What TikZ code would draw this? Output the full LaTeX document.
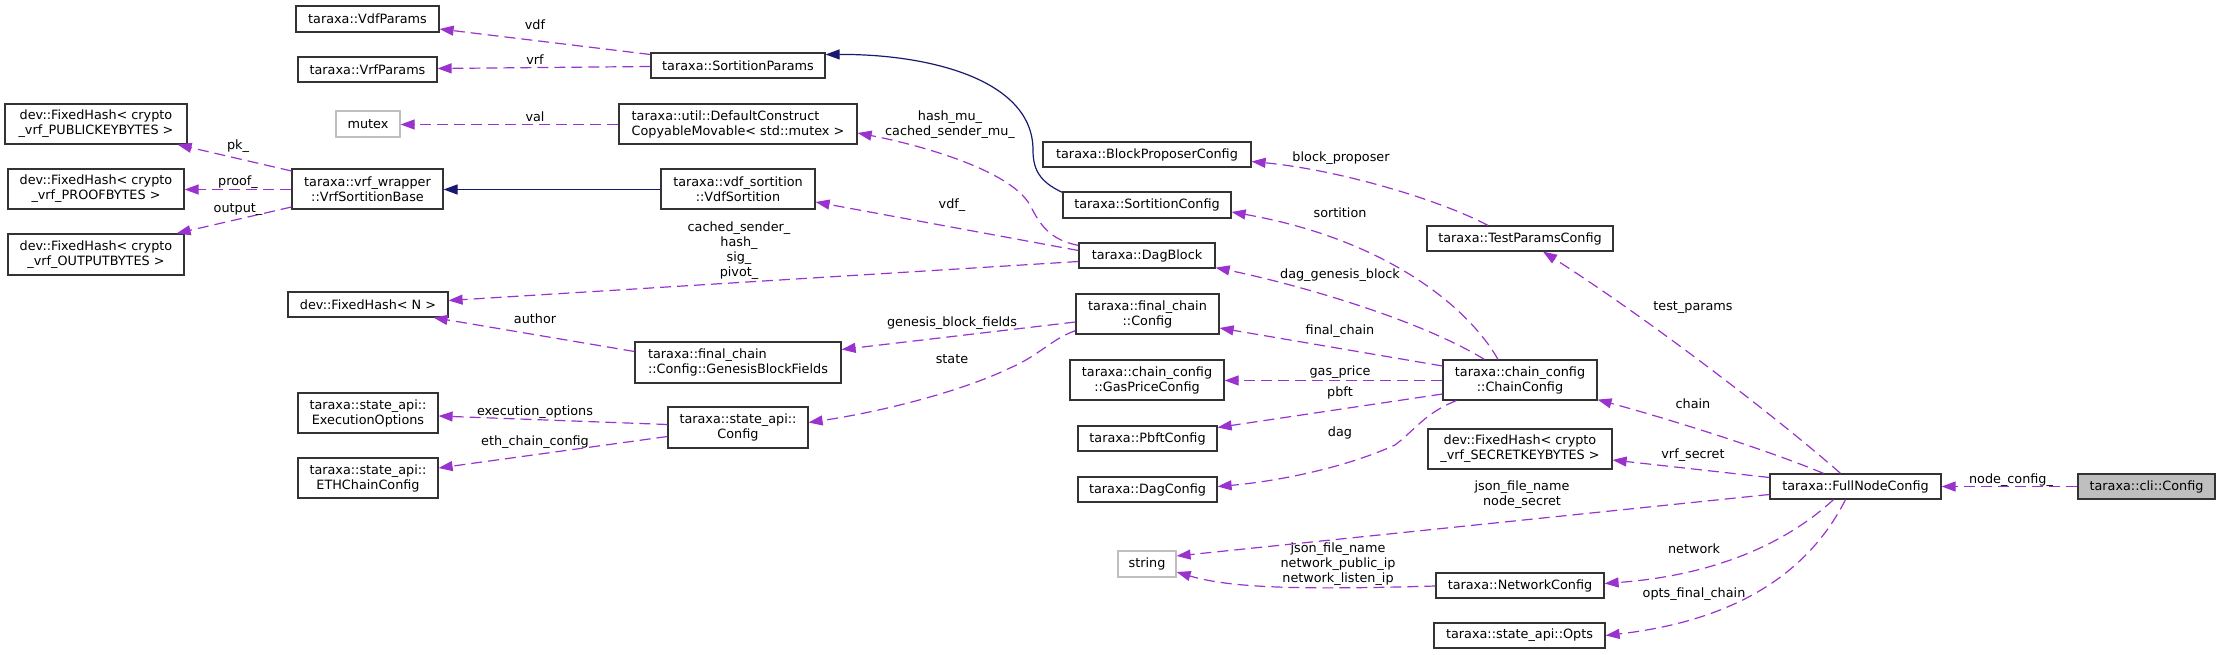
\documentclass[tikz,border=0pt]{standalone}
\usepackage{fontspec}
\setmainfont{DejaVu Sans}
\usetikzlibrary{arrows.meta,calc}
\definecolor{memc}{HTML}{9A32CD}
\definecolor{inhc}{HTML}{191970}
\definecolor{gbord}{HTML}{BFBFBF}
\newcommand\dxfont{\fontsize{12.8}{15}\selectfont}
\tikzset{
  cls/.style={draw=black!80, line width=1.2pt, fill=white, inner sep=0pt, align=center, font=\dxfont},
  gcls/.style={cls, draw=gbord},
  sz/.style 2 args={minimum width=#1pt, minimum height=#2pt},
  lbl/.style={inner sep=0pt, align=center, font=\dxfont},
  memedge/.style={draw=memc, line width=1.2pt, dash pattern=on 11pt off 6pt, -{Triangle[length=14pt,width=10pt]}},
  inhedge/.style={draw=inhc, line width=1.2pt, -{Triangle[length=14pt,width=10pt]}}
}
\begin{document}
\begin{tikzpicture}[x=1pt,y=-1pt]
\useasboundingbox (0,0) rectangle (2220,655);
% nodes
\node[cls,sz={143}{26}] (vdfp) at (367.5,19) {taraxa::VdfParams};
\node[cls,sz={139}{25}] (vrfp) at (367.5,69.5) {taraxa::VrfParams};
\node[cls,sz={174}{25}] (sortp) at (738,65.5) {taraxa::SortitionParams};
\node[cls,sz={182}{40}] (pubk) at (96,124) {dev::FixedHash< crypto\\\_vrf\_PUBLICKEYBYTES >};
\node[gcls,sz={64}{26}] (mutex) at (368,124) {mutex};
\node[cls,sz={238}{40},align=left] (defc) at (738,124) {taraxa::util::DefaultConstruct\\CopyableMovable< std::mutex >};
\node[cls,sz={208}{25}] (bpc) at (1147,154.5) {taraxa::BlockProposerConfig};
\node[cls,sz={176}{40}] (proof) at (96,189) {dev::FixedHash< crypto\\\_vrf\_PROOFBYTES >};
\node[cls,sz={151}{40}] (vrfsb) at (367.5,189) {taraxa::vrf\_wrapper\\::VrfSortitionBase};
\node[cls,sz={154}{40}] (vdfs) at (738,189) {taraxa::vdf\_sortition\\::VdfSortition};
\node[cls,sz={168}{26}] (sortc) at (1147,205) {taraxa::SortitionConfig};
\node[cls,sz={186}{25}] (tpc) at (1520,238.5) {taraxa::TestParamsConfig};
\node[cls,sz={176}{41}] (output) at (96,254.5) {dev::FixedHash< crypto\\\_vrf\_OUTPUTBYTES >};
\node[cls,sz={136}{25}] (dagb) at (1147,255.5) {taraxa::DagBlock};
\node[cls,sz={160}{25}] (fhn) at (368,304.5) {dev::FixedHash< N >};
\node[cls,sz={143}{40}] (fcc) at (1147.5,314) {taraxa::final\_chain\\::Config};
\node[cls,sz={206}{41},align=left] (gbf) at (738,362.5) {taraxa::final\_chain\\::Config::GenesisBlockFields};
\node[cls,sz={154}{40}] (chain) at (1520,380) {taraxa::chain\_config\\::ChainConfig};
\node[cls,sz={154}{40}] (gasp) at (1147,380) {taraxa::chain\_config\\::GasPriceConfig};
\node[cls,sz={140}{40}] (execo) at (368,413) {taraxa::state\_api::\\ExecutionOptions};
\node[cls,sz={140}{41}] (sac) at (738,427.5) {taraxa::state\_api::\\Config};
\node[cls,sz={139}{25}] (pbft) at (1147.5,438.5) {taraxa::PbftConfig};
\node[cls,sz={140}{40}] (eth) at (368,478) {taraxa::state\_api::\\ETHChainConfig};
\node[cls,sz={139}{25}] (dagc) at (1147.5,489.5) {taraxa::DagConfig};
\node[cls,sz={184}{40}] (secret) at (1520,449) {dev::FixedHash< crypto\\\_vrf\_SECRETKEYBYTES >};
\node[cls,sz={171}{25}] (fnc) at (1855.5,486.5) {taraxa::FullNodeConfig};
\node[cls,sz={137}{25},fill=gbord] (cli) at (2146.5,486.5) {taraxa::cli::Config};
\node[gcls,sz={58}{26}] (string) at (1147,564) {string};
\node[cls,sz={168}{25}] (netc) at (1520,585.5) {taraxa::NetworkConfig};
\node[cls,sz={171}{25}] (opts) at (1519.5,635.5) {taraxa::state\_api::Opts};
% edges
\draw[memedge] ($(sortp.west)+(0,-11)$) -- ($(vdfp.east)+(0,10)$);
\draw[memedge] ($(sortp.west)+(0,1)$) -- ($(vrfp.east)+(0,-1)$);
\draw[memedge] ($(defc.west)+(0,0.5)$) -- ($(mutex.east)+(0,0.5)$);
\draw[memedge] ($(vrfsb.west)+(0,-18)$) -- ($(pubk.south east)+(-10,0)$);
\draw[memedge] ($(vrfsb.west)+(0,0.5)$) -- ($(proof.east)+(0,0.5)$);
\draw[memedge] ($(vrfsb.west)+(0,18)$) -- ($(output.north east)+(-8,0)$);
\draw[inhedge] ($(vdfs.west)+(0,0.5)$) -- ($(vrfsb.east)+(0,0.5)$);
\draw[inhedge] ($(sortc.north west)+(0,1)$) .. controls (1040,182) and (1033,170) .. (1033,150) .. controls (1033,80) and (930,54) .. ($(sortp.east)+(0,-11)$);
\draw[memedge] ($(dagb.north west)+(0,3)$) .. controls (1050,240) and (1040,225) .. (1030,205) .. controls (1010,170) and (920,145) .. ($(defc.east)+(0,9)$);
\draw[memedge] ($(dagb.west)+(0,-5)$) -- ($(vdfs.east)+(0,13)$);
\draw[memedge] ($(dagb.west)+(0,6)$) -- ($(fhn.east)+(0,-4)$);
\draw[memedge] ($(gbf.west)+(0,-11)$) -- ($(fhn.south east)+(-15,0)$);
\draw[memedge] ($(fcc.west)+(0,8)$) -- ($(gbf.east)+(0,-13)$);
\draw[memedge] ($(fcc.south west)+(0,-4)$) .. controls (1050,340) and (1040,355) .. (1010,368) .. controls (960,392) and (880,412) .. ($(sac.east)+(0,-5)$);
\draw[memedge] ($(sac.west)+(0,-3)$) -- ($(execo.east)+(0,3)$);
\draw[memedge] ($(sac.west)+(0,9)$) -- ($(eth.east)+(0,-10)$);
\draw[memedge] ($(tpc.north)+(-32,0)$) .. controls (1440,200) and (1340,170) .. ($(bpc.east)+(0,7)$);
\draw[memedge] ($(chain.north)+(-22,0)$) .. controls (1470,310) and (1390,240) .. ($(sortc.east)+(0,7)$);
\draw[memedge] ($(chain.north west)+(42,0)$) .. controls (1420,320) and (1300,285) .. ($(dagb.south east)+(0,-1)$);
\draw[memedge] ($(chain.west)+(0,-14)$) -- ($(fcc.east)+(0,14)$);
\draw[memedge] ($(chain.west)+(0,0.5)$) -- ($(gasp.east)+(0,0.5)$);
\draw[memedge] ($(chain.west)+(0,14)$) -- ($(pbft.east)+(0,-11)$);
\draw[memedge] ($(chain.south west)+(14,0)$) .. controls (1425,413) and (1415,430) .. (1395,445) .. controls (1340,470) and (1270,482) .. ($(dagc.east)+(0,-3)$);
\draw[memedge] ($(fnc.north)+(-15,0)$) .. controls (1780,420) and (1650,320) .. ($(tpc.south)+(23,0)$);
\draw[memedge] ($(fnc.north)+(-32,0)$) .. controls (1780,455) and (1690,425) .. ($(chain.south east)+(0,-1)$);
\draw[memedge] ($(fnc.west)+(0,-9)$) -- ($(secret.east)+(0,11)$);
\draw[memedge] ($(fnc.west)+(0,8)$) -- ($(string.east)+(0,-8)$);
\draw[memedge] ($(fnc.south)+(-22,0)$) .. controls (1790,540) and (1720,575) .. ($(netc.east)+(0,-2)$);
\draw[memedge] ($(fnc.south)+(-10,0)$) .. controls (1810,570) and (1740,620) .. (opts.east);
\draw[memedge] ($(netc.west)+(0,0.5)$) .. controls (1300,590) and (1230,588) .. ($(string.east)+(0,8)$);
\draw[memedge] (cli.west) -- (fnc.east);
% labels
\node[lbl] (l1) at (535,25) {vdf};
\node[lbl] (l2) at (535,60) {vrf};
\node[lbl] (l3) at (535,117) {val};
\node[lbl] (l4) at (238,146) {pk\_};
\node[lbl] (l5) at (238,182) {proof\_};
\node[lbl] (l6) at (238,210) {output\_};
\node[lbl] (l7) at (950,125) {hash\_mu\_\\cached\_sender\_mu\_};
\node[lbl] (l8) at (952,205) {vdf\_};
\node[lbl] (l9) at (739,251) {cached\_sender\_\\hash\_\\sig\_\\pivot\_};
\node[lbl] (l10) at (535,319) {author};
\node[lbl] (l11) at (952,323) {genesis\_block\_fields};
\node[lbl] (l12) at (952,359) {state};
\node[lbl] (l13) at (535,412) {execution\_options};
\node[lbl] (l14) at (535,442) {eth\_chain\_config};
\node[lbl] (l15) at (1341,158) {block\_proposer};
\node[lbl] (l16) at (1340,213) {sortition};
\node[lbl] (l17) at (1340,275) {dag\_genesis\_block};
\node[lbl] (l18) at (1340,331) {final\_chain};
\node[lbl] (l19) at (1340,372) {gas\_price};
\node[lbl] (l20) at (1340,393) {pbft};
\node[lbl] (l21) at (1340,433) {dag};
\node[lbl] (l22) at (1693,308) {test\_params};
\node[lbl] (l23) at (1693,404) {chain};
\node[lbl] (l24) at (1693,455) {vrf\_secret};
\node[lbl] (l25) at (1522,495) {json\_file\_name\\node\_secret};
\node[lbl] (l26) at (1694,549) {network};
\node[lbl] (l27) at (1694,594) {opts\_final\_chain};
\node[lbl] (l28) at (1338,564) {json\_file\_name\\network\_public\_ip\\network\_listen\_ip};
\node[lbl] (l29) at (2011,480) {node\_config\_};
\end{tikzpicture}
\end{document}
